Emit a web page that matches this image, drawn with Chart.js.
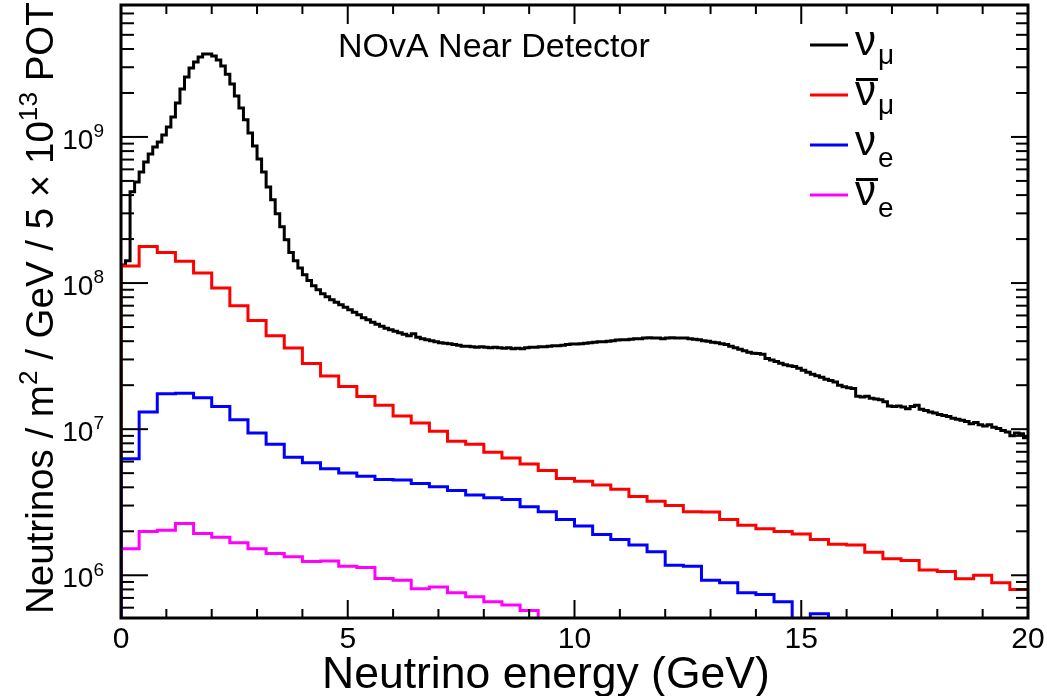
<!DOCTYPE html>
<html>
<head>
<meta charset="utf-8">
<script src="https://cdn.jsdelivr.net/npm/chart.js@4.4.1/dist/chart.umd.min.js"></script>
<style>
  html, body { margin: 0; padding: 0; background: #fff; }
</style>
</head>
<body>
<canvas id="flux" width="1047" height="696"></canvas>
<script>
// Bin widths in GeV (numu histogram is finer than the others)
const numuBinWidth = 0.1;
const otherBinWidth = 0.4;

// numu flux, 0.1 GeV bins from 0 to 20 GeV
const numu = [
  1.33e8, 1.42e8, 4.21e8, 4.92e8, 5.76e8, 6.75e8, 7.65e8, 8.54e8, 9.24e8, 1.03e9,
  1.17e9, 1.37e9, 1.71e9, 2.13e9, 2.57e9, 2.96e9, 3.26e9, 3.52e9, 3.69e9, 3.69e9,
  3.58e9, 3.36e9, 3.06e9, 2.69e9, 2.30e9, 1.91e9, 1.58e9, 1.31e9, 1.065e9, 8.68e8,
  7.07e8, 5.76e8, 4.55e8, 3.71e8, 2.98e8, 2.43e8, 1.98e8, 1.62e8, 1.42e8, 1.27e8,
  1.14e8, 1.04e8, 9.58e7, 9.0e7, 8.45e7, 8.06e7, 7.69e7, 7.39e7, 7.10e7, 6.83e7,
  6.57e7, 6.31e7, 6.07e7, 5.79e7, 5.61e7, 5.39e7, 5.22e7, 5.06e7, 4.91e7, 4.79e7,
  4.68e7, 4.57e7, 4.47e7, 4.36e7, 4.50e7, 4.26e7, 4.16e7, 4.10e7, 4.03e7, 3.97e7,
  3.91e7, 3.88e7, 3.84e7, 3.79e7, 3.76e7, 3.70e7, 3.70e7, 3.67e7, 3.64e7, 3.67e7,
  3.64e7, 3.61e7, 3.64e7, 3.61e7, 3.58e7, 3.61e7, 3.55e7, 3.58e7, 3.55e7, 3.61e7,
  3.64e7, 3.64e7, 3.67e7, 3.67e7, 3.70e7, 3.73e7, 3.73e7, 3.76e7, 3.79e7, 3.82e7,
  3.82e7, 3.84e7, 3.88e7, 3.91e7, 3.94e7, 3.97e7, 3.97e7, 4.00e7, 4.03e7, 4.07e7,
  4.10e7, 4.10e7, 4.13e7, 4.16e7, 4.16e7, 4.20e7, 4.23e7, 4.20e7, 4.20e7, 4.16e7,
  4.20e7, 4.23e7, 4.20e7, 4.20e7, 4.20e7, 4.16e7, 4.13e7, 4.10e7, 4.03e7, 4.00e7,
  3.94e7, 3.91e7, 3.84e7, 3.79e7, 3.70e7, 3.61e7, 3.52e7, 3.44e7, 3.36e7, 3.31e7,
  3.29e7, 3.26e7, 3.04e7, 2.97e7, 2.90e7, 2.83e7, 2.76e7, 2.72e7, 2.68e7, 2.61e7,
  2.53e7, 2.45e7, 2.38e7, 2.32e7, 2.27e7, 2.20e7, 2.15e7, 2.10e7, 2.00e7, 1.95e7,
  1.92e7, 1.90e7, 1.68e7, 1.66e7, 1.68e7, 1.63e7, 1.61e7, 1.59e7, 1.54e7, 1.44e7,
  1.43e7, 1.44e7, 1.42e7, 1.38e7, 1.43e7, 1.46e7, 1.37e7, 1.34e7, 1.31e7, 1.29e7,
  1.26e7, 1.24e7, 1.22e7, 1.19e7, 1.17e7, 1.15e7, 1.13e7, 1.09e7, 1.11e7, 1.07e7,
  1.05e7, 1.07e7, 1.03e7, 1.01e7, 9.8e6, 9.55e6, 9.0e6, 9.4e6, 9.3e6, 8.75e6
];

// numubar, nue, nuebar: 0.4 GeV bins
const numubar = [
  1.31e8, 1.78e8, 1.62e8, 1.41e8, 1.17e8, 9.24e7, 7.0e7, 5.55e7, 4.36e7, 3.6e7,
  2.81e7, 2.31e7, 1.96e7, 1.67e7, 1.46e7, 1.23e7, 1.10e7, 9.67e6, 8.26e6, 7.88e6,
  6.96e6, 6.36e6, 5.77e6, 5.21e6, 4.6e6, 4.4e6, 4.15e6, 3.88e6, 3.46e6, 3.21e6,
  3.0e6, 2.72e6, 2.71e6, 2.41e6, 2.20e6, 2.08e6, 1.99e6, 1.92e6, 1.76e6, 1.63e6,
  1.61e6, 1.44e6, 1.30e6, 1.26e6, 1.085e6, 1.06e6, 9.48e5, 1.0e6, 8.9e5, 8.0e5
];
const nue = [
  6.27e6, 1.31e7, 1.75e7, 1.76e7, 1.64e7, 1.43e7, 1.16e7, 9.43e6, 7.88e6, 6.42e6,
  5.88e6, 5.35e6, 5.02e6, 4.76e6, 4.52e6, 4.49e6, 4.24e6, 4.03e6, 3.81e6, 3.54e6,
  3.39e6, 3.30e6, 2.94e6, 2.72e6, 2.41e6, 2.17e6, 1.90e6, 1.76e6, 1.61e6, 1.45e6,
  1.17e6, 1.155e6, 9.23e5, 8.9e5, 7.6e5, 7.4e5, 6.6e5, 4.8e5, 5.45e5, 4.7e5,
  4.4e5, 4.2e5, 4.0e5, 3.8e5, 3.6e5, 3.4e5, 3.2e5, 3.1e5, 2.9e5, 2.8e5
];
const nuebar = [
  1.52e6, 1.99e6, 2.03e6, 2.26e6, 1.93e6, 1.82e6, 1.67e6, 1.52e6, 1.41e6, 1.34e6,
  1.24e6, 1.25e6, 1.155e6, 1.13e6, 9.52e5, 9.23e5, 8.1e5, 8.3e5, 7.6e5, 7.14e5,
  6.6e5, 6.26e5, 5.75e5, 4.9e5, 4.7e5, 4.5e5, 4.3e5, 4.1e5, 3.9e5, 3.7e5,
  3.5e5, 3.3e5, 3.1e5, 3.0e5, 2.9e5, 2.8e5, 2.7e5, 2.6e5, 2.5e5, 2.4e5,
  2.3e5, 2.2e5, 2.1e5, 2.0e5, 1.9e5, 1.8e5, 1.7e5, 1.6e5, 1.5e5, 1.4e5
];

// axis ranges and tick labels
const X_MIN = 0, X_MAX = 20;
const Y_MIN = 5.1e5, Y_MAX = 8e9;
const xTickLabels = [0, 5, 10, 15, 20];
const yTickExponents = [6, 7, 8, 9];

const legendItems = [
  { sub: 'μ', bar: false, color: '#000000' },
  { sub: 'μ', bar: true, color: '#ff0000' },
  { sub: 'e', bar: false, color: '#0000ff' },
  { sub: 'e', bar: true, color: '#ff00ff' }
];

const FONT = '"Liberation Sans", Arial, Helvetica, sans-serif';
function font(size) { return size + 'px ' + FONT; }

// Turn bin contents into step points (left edge of every bin + closing edge)
function histPoints(values, width) {
  const pts = [{ x: X_MIN, y: Y_MIN }];
  values.forEach((v, i) => pts.push({ x: i * width, y: v }));
  pts.push({ x: values.length * width, y: values[values.length - 1] });
  return pts;
}

function histDataset(label, values, width, color) {
  return {
    label: label,
    data: histPoints(values, width),
    borderColor: color,
    borderWidth: 3,
    stepped: 'before',
    pointRadius: 0,
    fill: false,
    tension: 0,
    borderJoinStyle: 'miter'
  };
}

// text with superscript runs
function richWidth(ctx, runs, size) {
  let w = 0;
  runs.forEach(r => {
    ctx.font = font(r.sup ? size * 0.68 : size);
    w += ctx.measureText(r.t).width;
  });
  return w;
}
function drawRich(ctx, runs, x, y, size) {
  runs.forEach(r => {
    const s = r.sup ? size * 0.68 : size;
    ctx.font = font(s);
    ctx.fillText(r.t, x, r.sup ? y - size * 0.42 : y);
    x += ctx.measureText(r.t).width;
  });
}

// ROOT-like frame, inward ticks, labels, titles and legend
const rootStyle = {
  id: 'rootStyle',
  afterDatasetsDraw(chart) {
    const { ctx, chartArea: a, scales: { x, y } } = chart;
    ctx.save();
    ctx.strokeStyle = '#000';
    ctx.fillStyle = '#000';
    ctx.lineWidth = 2;

    function seg(x1, y1, x2, y2) {
      ctx.beginPath(); ctx.moveTo(x1, y1); ctx.lineTo(x2, y2); ctx.stroke();
    }

    // x ticks: minor every 1 GeV, major every 5 GeV
    for (let v = X_MIN; v <= X_MAX; v++) {
      const px = x.getPixelForValue(v);
      const major = v % 5 === 0;
      seg(px, a.bottom, px, a.bottom - (major ? 18 : 9));
      seg(px, a.top, px, a.top + (major ? 19 : 9));
    }

    // y ticks: decades and 2..9 subdivisions
    for (let e = 5; e <= 9; e++) {
      for (let m = 1; m <= 9; m++) {
        const v = m * Math.pow(10, e);
        if (v < Y_MIN || v > Y_MAX) continue;
        const py = y.getPixelForValue(v);
        const major = m === 1;
        seg(a.left, py, a.left + (major ? 27 : 13), py);
        seg(a.right, py, a.right - (major ? 17 : 12), py);
      }
    }

    // frame
    ctx.lineWidth = 3;
    ctx.strokeRect(a.left, a.top, a.right - a.left, a.bottom - a.top);

    // x tick labels
    ctx.font = font(30);
    ctx.textAlign = 'center';
    ctx.textBaseline = 'alphabetic';
    xTickLabels.forEach(v => ctx.fillText(String(v), x.getPixelForValue(v), 648));

    // y tick labels 10^n
    ctx.textAlign = 'left';
    yTickExponents.forEach(n => {
      const py = y.getPixelForValue(Math.pow(10, n));
      const runs = [{ t: '10' }, { t: String(n), sup: true }];
      const w = richWidth(ctx, runs, 28);
      drawRich(ctx, runs, 104 - w, py + 12, 28);
    });

    // x axis title, fitted to its span in the reference
    const xTitle = [{ t: 'Neutrino energy (GeV)' }];
    const xs = 40 * 448 / richWidth(ctx, xTitle, 40);
    drawRich(ctx, xTitle, 322, 688, xs);

    // y axis title, rotated
    const yTitle = [
      { t: 'Neutrinos / m' }, { t: '2', sup: true },
      { t: ' / GeV / 5 × 10' }, { t: '13', sup: true }, { t: ' POT' }
    ];
    const ys = 40 * 612 / richWidth(ctx, yTitle, 40);
    ctx.save();
    ctx.translate(53, 614);
    ctx.rotate(-Math.PI / 2);
    drawRich(ctx, yTitle, 0, 0, ys);
    ctx.restore();

    // plot title
    ctx.font = font(34);
    ctx.fillText('NOvA Near Detector', 338, 57);

    // legend
    legendItems.forEach((item, i) => {
      const ly = 45 + i * 50;
      ctx.strokeStyle = item.color;
      ctx.lineWidth = 3;
      seg(810, ly, 848, ly);
      ctx.fillStyle = '#000';
      ctx.font = font(42);
      ctx.fillText('ν', 855, ly + 10);
      if (item.bar) {
        ctx.fillRect(856, ly - 17, 22, 3);
      }
      ctx.font = font(28);
      ctx.fillText(item.sub, 878, ly + (item.sub === 'μ' ? 19 : 22));
    });

    ctx.restore();
  }
};

new Chart(document.getElementById('flux').getContext('2d'), {
  type: 'line',
  data: {
    // later datasets are drawn underneath, so numu goes last
    datasets: [
      histDataset('nue', nue, otherBinWidth, '#0000ff'),
      histDataset('nuebar', nuebar, otherBinWidth, '#ff00ff'),
      histDataset('numubar', numubar, otherBinWidth, '#ff0000'),
      histDataset('numu', numu, numuBinWidth, '#000000')
    ]
  },
  options: {
    responsive: false,
    devicePixelRatio: 1,
    animation: false,
    layout: { padding: { left: 121, right: 19, top: 5, bottom: 78 } },
    plugins: { legend: { display: false }, tooltip: { enabled: false } },
    scales: {
      x: { type: 'linear', min: X_MIN, max: X_MAX, display: false },
      y: { type: 'logarithmic', min: Y_MIN, max: Y_MAX, display: false }
    }
  },
  plugins: [rootStyle]
});
</script>
</body>
</html>
